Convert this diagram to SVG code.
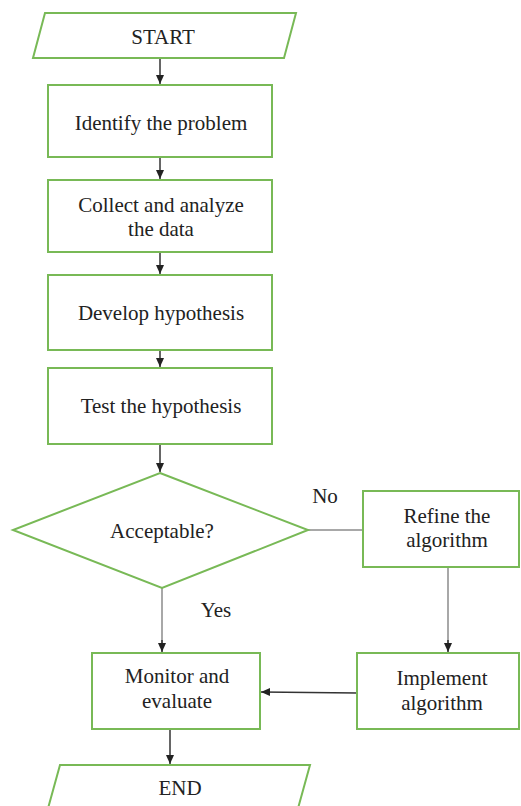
<svg xmlns="http://www.w3.org/2000/svg" width="521" height="806" viewBox="0 0 521 806">
<defs>
<marker id="ah" markerWidth="10" markerHeight="10" refX="9" refY="5" orient="auto" markerUnits="userSpaceOnUse">
<path d="M0,1 L9,5 L0,9 Z" fill="#222"/>
</marker>
<style>
.n{fill:#fff;stroke:#78b956;stroke-width:2}
.t{font-family:'Liberation Serif','DejaVu Serif',serif;font-size:21px;fill:#222;text-anchor:middle}
.c{stroke:#333;stroke-width:1.5;fill:none}
.g{stroke:#a8a8a8;stroke-width:2;fill:none}
</style>
</defs>
<rect width="521" height="806" fill="#fff"/>
<g id="connectors">
<line class="c" x1="160" y1="58" x2="160" y2="84" marker-end="url(#ah)"/>
<line class="c" x1="160" y1="157" x2="160" y2="179" marker-end="url(#ah)"/>
<line class="c" x1="160" y1="252" x2="160" y2="274" marker-end="url(#ah)"/>
<line class="c" x1="160" y1="350" x2="160" y2="367" marker-end="url(#ah)"/>
<line class="c" x1="160" y1="444" x2="160" y2="472" marker-end="url(#ah)"/>
<line class="g" x1="308" y1="530" x2="363" y2="530"/>
<line class="g" x1="448" y1="567" x2="448" y2="645"/>
<line class="c" x1="448" y1="640" x2="448" y2="652" marker-end="url(#ah)"/>
<line class="g" x1="162" y1="588" x2="162" y2="645"/>
<line class="c" x1="162" y1="640" x2="162" y2="652" marker-end="url(#ah)"/>
<line class="c" x1="357" y1="693" x2="261" y2="692" marker-end="url(#ah)"/>
<line class="c" x1="170" y1="729" x2="170" y2="764" marker-end="url(#ah)"/>
<text class="t" x="325" y="503" font-family="Liberation Serif, serif">No</text>
<text class="t" x="216" y="617" font-family="Liberation Serif, serif">Yes</text>
</g>
<g id="start">
<polygon class="n" points="45,13 296,13 284,58 33,58"/>
<text class="t" x="163" y="44">START</text>
</g>
<g id="identify">
<rect class="n" x="48" y="85" width="224" height="72"/>
<text class="t" x="161" y="130">Identify the problem</text>
</g>
<g id="collect">
<rect class="n" x="48" y="180" width="224" height="72"/>
<text class="t" x="161" y="212">Collect and analyze</text>
<text class="t" x="161" y="236">the data</text>
</g>
<g id="develop">
<rect class="n" x="48" y="275" width="224" height="75"/>
<text class="t" x="161" y="320">Develop hypothesis</text>
</g>
<g id="test">
<rect class="n" x="48" y="368" width="224" height="76"/>
<text class="t" x="161" y="413">Test the hypothesis</text>
</g>
<g id="acceptable">
<polygon class="n" points="160,473 308,530 162,588 13,530"/>
<text class="t" x="162" y="538">Acceptable?</text>
</g>
<g id="refine">
<rect class="n" x="363" y="491" width="156" height="76"/>
<text class="t" x="447" y="523">Refine the</text>
<text class="t" x="447" y="547">algorithm</text>
</g>
<g id="implement">
<rect class="n" x="357" y="653" width="162" height="76"/>
<text class="t" x="442" y="685">Implement</text>
<text class="t" x="442" y="710">algorithm</text>
</g>
<g id="monitor">
<rect class="n" x="92" y="653" width="168" height="76"/>
<text class="t" x="177" y="683">Monitor and</text>
<text class="t" x="177" y="708">evaluate</text>
</g>
<g id="end">
<polygon class="n" points="60,765 310,765 297,812 47,812"/>
<text class="t" x="180" y="795">END</text>
</g>
</svg>
